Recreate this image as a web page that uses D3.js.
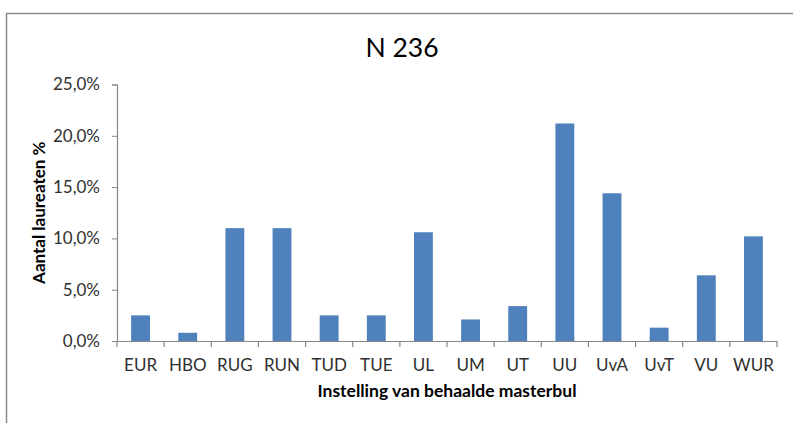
<!DOCTYPE html>
<html>
<head>
  <meta charset="utf-8">
  <script src="https://cdn.jsdelivr.net/npm/d3@7"></script>
  <title>N 236</title>
  <style>
    body { margin: 0; background: #fff; }
    text { font-family: Lato, "Open Sans", sans-serif; }
  </style>
</head>
<body>
  <div id="chartDiv"></div>
  <script>
    // data
    var categories = ["EUR", "HBO", "RUG", "RUN", "TUD", "TUE", "UL", "UM", "UT", "UU", "UvA", "UvT", "VU", "WUR"];
    var percentages = [2.5, 0.8, 11.0, 11.0, 2.5, 2.5, 10.6, 2.1, 3.4, 21.2, 14.4, 1.3, 6.4, 10.2];
    var yTicks = [0, 5, 10, 15, 20, 25];

    var width = 793, height = 423;
    var margin = {top: 84.5, right: 16, bottom: 82, left: 117};
    var plotW = width - margin.left - margin.right;
    var plotH = height - margin.top - margin.bottom;

    var svg = d3.select("#chartDiv").append("svg")
        .attr("width", width)
        .attr("height", height);

    // chart frame
    svg.append("rect")
        .attr("x", 6.5).attr("y", 13.5)
        .attr("width", 800).attr("height", 430)
        .attr("fill", "#fff")
        .attr("stroke", "#8c8c8c")
        .attr("stroke-width", 1.5);

    var g = svg.append("g")
        .attr("transform", "translate(" + margin.left + "," + margin.top + ")");

    var x = d3.scaleBand()
        .domain(categories)
        .range([0, plotW])
        .paddingInner(0.6)
        .paddingOuter(0.3);

    var y = d3.scaleLinear()
        .domain([0, 25])
        .range([plotH, 0]);

    // bars
    g.selectAll("rect.bar")
        .data(categories)
      .enter().append("rect")
        .attr("class", "bar")
        .attr("x", function(d) { return x(d); })
        .attr("width", x.bandwidth())
        .attr("y", function(d, i) { return y(percentages[i]); })
        .attr("height", function(d, i) { return plotH - y(percentages[i]); })
        .attr("fill", "#4f81bd");

    // y axis
    var yAxis = g.append("g")
        .call(d3.axisLeft(y)
          .tickValues(yTicks)
          .tickSize(5)
          .tickPadding(12)
          .tickFormat(function(d) { return d.toFixed(1).replace(".", ",") + "%"; }));
    yAxis.select(".domain").attr("stroke", "#868686").attr("stroke-width", 1.2);
    yAxis.selectAll(".tick line").attr("stroke", "#868686");
    yAxis.selectAll(".tick text")
        .attr("fill", "#303030")
        .style("font-size", "17px");

    // x axis: labels under band centres, ticks at band boundaries
    var xAxis = g.append("g")
        .attr("transform", "translate(0," + plotH + ")")
        .call(d3.axisBottom(x).tickSize(0).tickPadding(18));
    xAxis.select(".domain").attr("stroke", "#868686").attr("stroke-width", 1.2);
    xAxis.selectAll(".tick text")
        .attr("fill", "#303030")
        .style("font-size", "17px");

    var bounds = d3.range(categories.length + 1).map(function(i) { return x.range()[0] + i * x.step(); });
    xAxis.selectAll("line.sep")
        .data(bounds)
      .enter().append("line")
        .attr("class", "sep")
        .attr("x1", function(d) { return d; })
        .attr("x2", function(d) { return d; })
        .attr("y1", 0)
        .attr("y2", 6)
        .attr("stroke", "#868686")
        .attr("stroke-width", 1.2);

    // titles
    svg.append("text")
        .attr("x", 402)
        .attr("y", 56.5)
        .attr("text-anchor", "middle")
        .style("font-size", "26.5px")
        .attr("fill", "#000")
        .text("N 236");

    svg.append("text")
        .attr("x", margin.left + plotW / 2)
        .attr("y", 396.5)
        .attr("text-anchor", "middle")
        .style("font-size", "17.5px")
        .style("font-weight", "bold")
        .attr("fill", "#000")
        .text("Instelling van behaalde masterbul");

    svg.append("text")
        .attr("transform", "translate(44.5," + (margin.top + plotH / 2) + ") rotate(-90)")
        .attr("text-anchor", "middle")
        .style("font-size", "17px")
        .style("font-weight", "bold")
        .attr("fill", "#000")
        .text("Aantal laureaten %");
  </script>
</body>
</html>
